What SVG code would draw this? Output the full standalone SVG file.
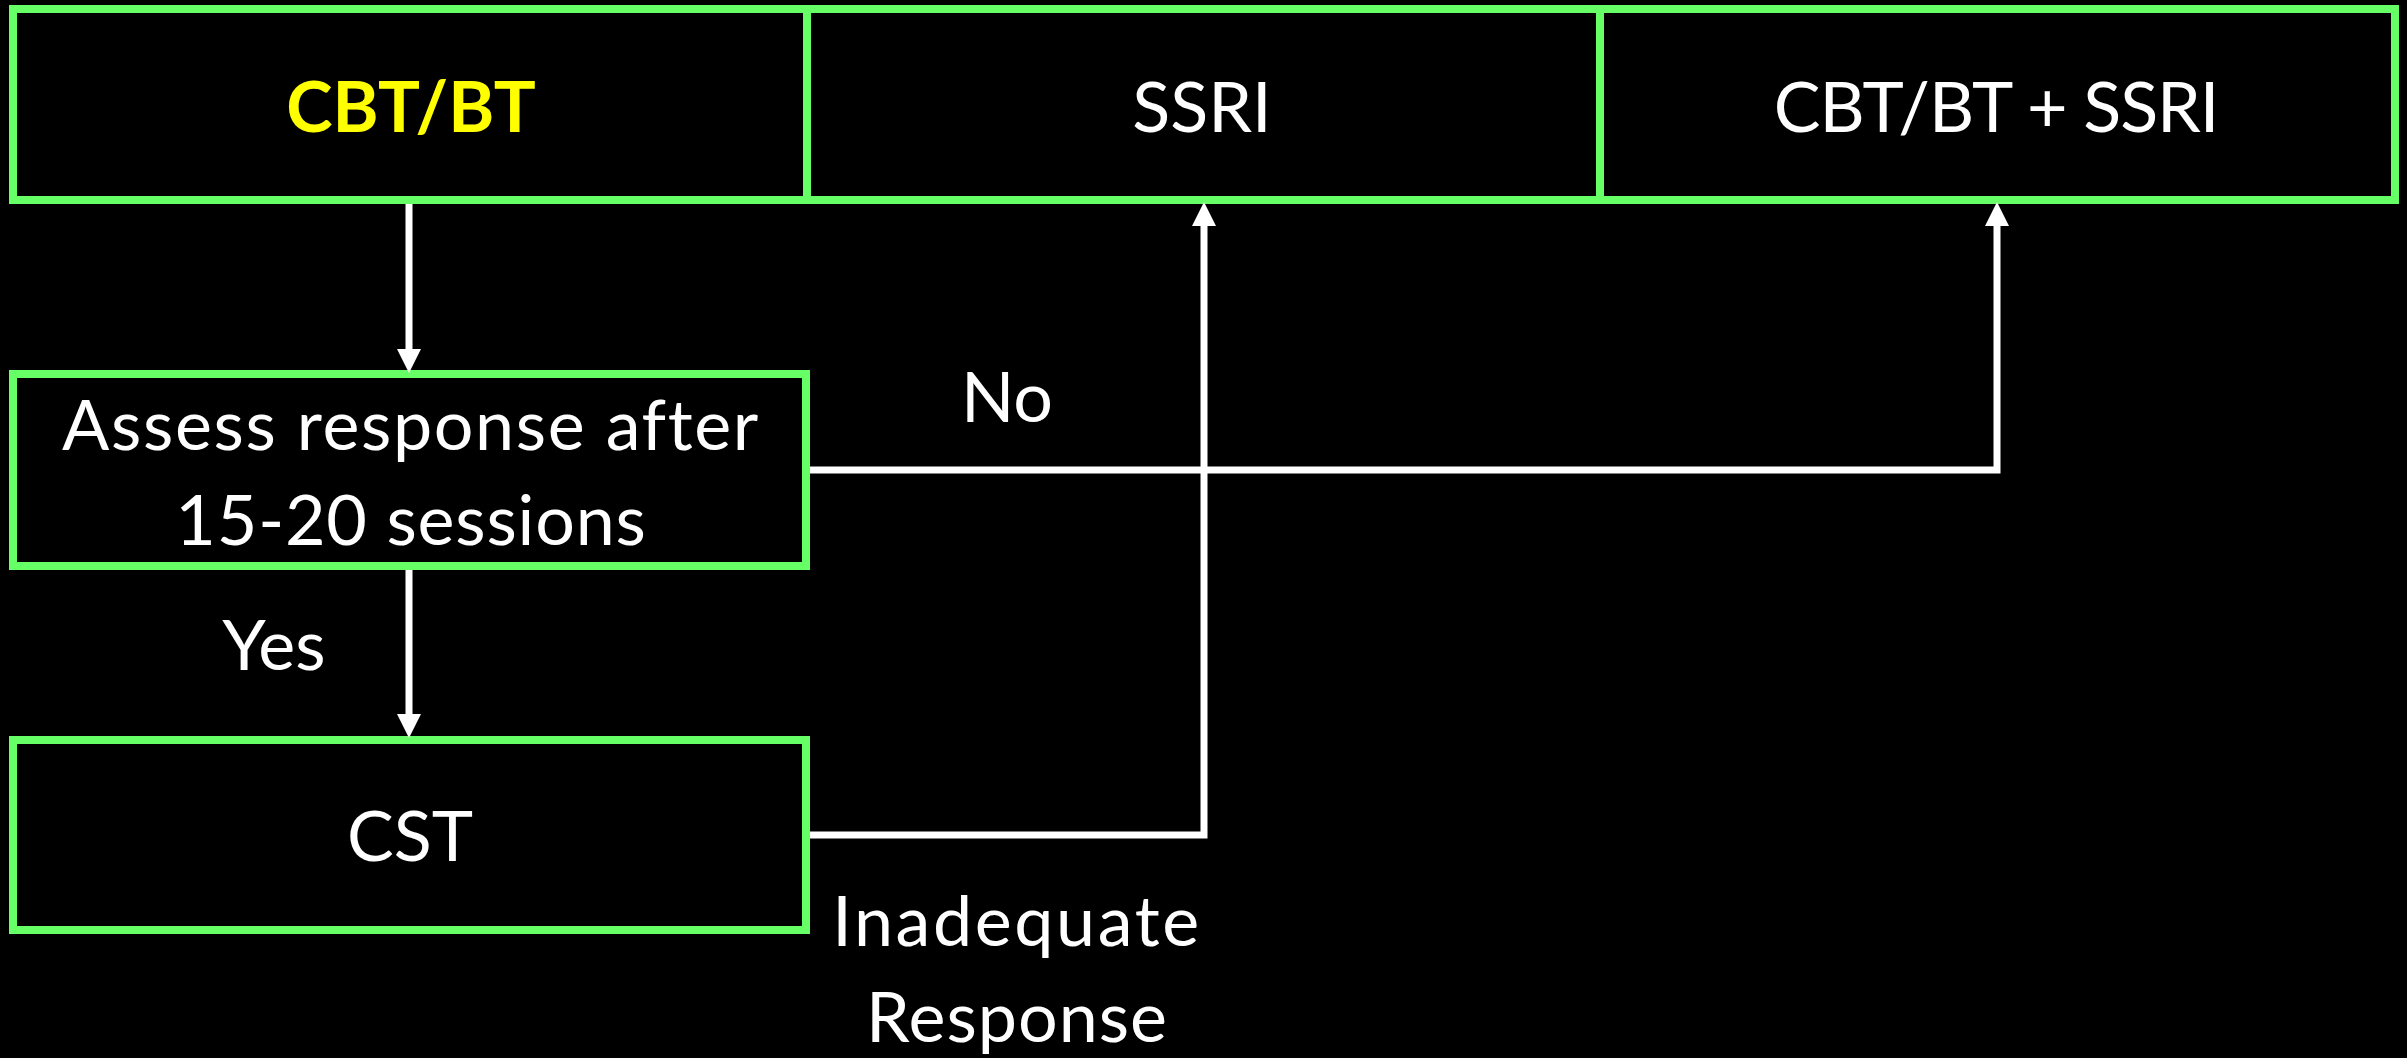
<svg xmlns="http://www.w3.org/2000/svg" width="2407" height="1058" viewBox="0 0 2407 1058">
<defs>
<style>
.box{fill:#000;stroke:#66FF66;stroke-width:8}
.t{font-family:Lato,"Open Sans",sans-serif;font-size:70px;fill:#fff;text-anchor:middle}
.y{fill:#FFFF00;font-weight:bold}
.c{fill:none;stroke:#fff;stroke-width:7}
</style>
<marker id="ah" markerUnits="userSpaceOnUse" viewBox="0 0 24 24" refX="4" refY="12" markerWidth="24" markerHeight="24" orient="auto">
<path d="M0,0 L24,12 L0,24 z" fill="#fff"/>
</marker>
</defs>
<rect width="2407" height="1058" fill="#000"/>
<g id="node-cbt">
<rect class="box" x="13" y="9" width="794" height="191"/>
<text class="t y" x="411" y="132">CBT/BT</text>
</g>
<g id="node-ssri">
<rect class="box" x="807" y="9" width="793" height="191"/>
<text class="t" x="1202" y="132">SSRI</text>
</g>
<g id="node-combo">
<rect class="box" x="1600" y="9" width="795" height="191"/>
<text class="t" x="1996" y="132" letter-spacing="-1.1">CBT/BT + SSRI</text>
</g>
<g id="node-assess">
<rect class="box" x="13" y="374" width="793" height="192"/>
<text class="t" x="411" y="450" letter-spacing="1.6">Assess response after</text>
<text class="t" x="411" y="545" letter-spacing="0.8">15-20 sessions</text>
</g>
<g id="node-cst">
<rect class="box" x="13" y="740" width="793" height="190"/>
<text class="t" x="410" y="861">CST</text>
</g>
<g id="connectors">
<path class="c" d="M409,204 V353" marker-end="url(#ah)"/>
<path class="c" d="M409,570 V718" marker-end="url(#ah)"/>
<path class="c" d="M810,470 H1997 V222" marker-end="url(#ah)"/>
<path class="c" d="M810,835 H1204 V222" marker-end="url(#ah)"/>
<text class="t" x="274" y="670">Yes</text>
<text class="t" x="1007" y="422">No</text>
<text class="t" x="1017" y="946" letter-spacing="2.6">Inadequate</text>
<text class="t" x="1017" y="1042" letter-spacing="1">Response</text>
</g>
</svg>
